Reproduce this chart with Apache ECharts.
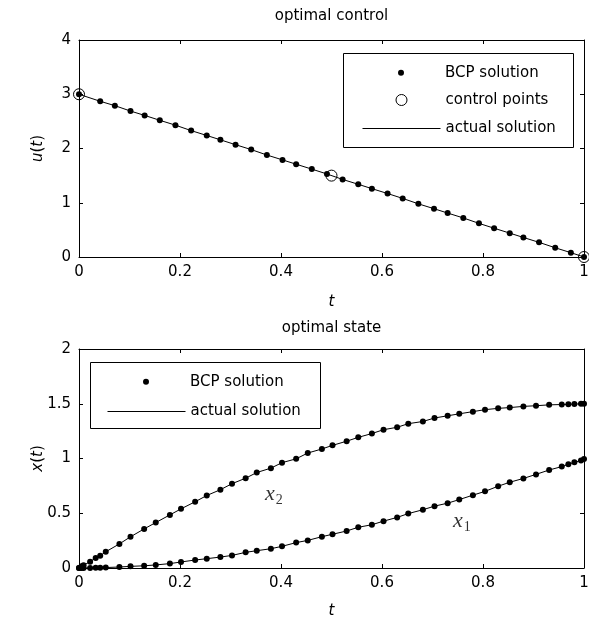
<!DOCTYPE html>
<html>
<head>
<meta charset="utf-8">
<script src="https://cdn.jsdelivr.net/npm/echarts@6/dist/echarts.min.js"></script>
<style>
html, body { margin: 0; padding: 0; background: #fff; }
#main { width: 589px; height: 619px; }
</style>
</head>
<body>
<div id="main"></div>
<script>
// top panel: optimal control u(t)
var tU = [0, 0.042, 0.071, 0.102, 0.13, 0.16, 0.191, 0.222, 0.253, 0.28, 0.31, 0.341, 0.372, 0.403, 0.43, 0.461, 0.491,
	0.522, 0.553, 0.58, 0.611, 0.641, 0.672, 0.703, 0.73, 0.761, 0.792, 0.822, 0.853, 0.88, 0.911, 0.943, 0.974, 1.0];
var uBcp = [3.0, 2.87, 2.79, 2.69, 2.61, 2.52, 2.43, 2.33, 2.24, 2.16, 2.07, 1.98, 1.88, 1.79, 1.71, 1.62, 1.53,
	1.43, 1.34, 1.26, 1.17, 1.08, 0.98, 0.89, 0.81, 0.72, 0.62, 0.53, 0.44, 0.36, 0.27, 0.17, 0.08, 0.0];
var tCtrl = [0, 0.5, 1];
var uCtrl = [3, 1.5, 0];

// bottom panel: optimal state x1(t), x2(t)
var tX = [0, 0.005, 0.009, 0.022, 0.033, 0.042, 0.053, 0.08, 0.102, 0.129, 0.152, 0.18, 0.202, 0.23, 0.253, 0.28,
	0.303, 0.33, 0.352, 0.38, 0.402, 0.43, 0.453, 0.481, 0.502, 0.53, 0.553, 0.58, 0.603, 0.63, 0.652, 0.681, 0.704,
	0.73, 0.753, 0.78, 0.804, 0.83, 0.853, 0.88, 0.905, 0.931, 0.956, 0.969, 0.981, 0.994, 1.0];
var x2Bcp = [0, 0.015, 0.025, 0.058, 0.092, 0.112, 0.148, 0.22, 0.285, 0.357, 0.415, 0.485, 0.54, 0.605, 0.662, 0.715,
	0.77, 0.82, 0.872, 0.912, 0.962, 0.997, 1.05, 1.087, 1.12, 1.158, 1.193, 1.228, 1.263, 1.285, 1.318, 1.338, 1.37,
	1.39, 1.408, 1.428, 1.446, 1.458, 1.465, 1.476, 1.482, 1.49, 1.493, 1.495, 1.497, 1.499, 1.5];
var x1Bcp = [0, 0, 0, 0.001, 0.002, 0.003, 0.004, 0.009, 0.015, 0.02, 0.028, 0.04, 0.055, 0.073, 0.085, 0.1,
	0.115, 0.143, 0.158, 0.176, 0.198, 0.232, 0.252, 0.286, 0.308, 0.338, 0.372, 0.395, 0.428, 0.462, 0.497, 0.532, 0.565,
	0.592, 0.625, 0.665, 0.7, 0.747, 0.783, 0.818, 0.855, 0.895, 0.926, 0.947, 0.965, 0.982, 0.995];

// curve name labels (x2, x1)
var annT = [0.386, 0.758];
var annX = [0.677, 0.43];
var annSub = ['2', '1'];

// tick values
var tTicks = [0, 0.2, 0.4, 0.6, 0.8, 1];
var uTicks = [0, 1, 2, 3, 4];
var xTicks = [0, 0.5, 1, 1.5, 2];

var FONT = 'DejaVu Sans';
var chart = echarts.init(document.getElementById('main'));

function pairs(t, v) {
	return t.map(function (x, i) { return [x, v[i]]; });
}

function axis(g, pos, ticks, showLabel, name, nameStyle, nameGap) {
	return {
		gridIndex: g,
		type: 'value',
		position: pos,
		min: ticks[0],
		max: ticks[ticks.length - 1],
		interval: ticks[1] - ticks[0],
		axisLine: { show: true, onZero: false, lineStyle: { color: '#000', width: 1 } },
		axisTick: { show: true, inside: true, length: 4, lineStyle: { color: '#000', width: 1 } },
		axisLabel: { show: showLabel, color: '#000', fontFamily: FONT, fontSize: 15, margin: 8 },
		splitLine: { show: false },
		name: name || '',
		nameLocation: 'middle',
		nameGap: nameGap || 0,
		nameMoveOverlap: false,
		nameTextStyle: nameStyle || {}
	};
}

var tName = { fontFamily: FONT, fontSize: 15, color: '#000', fontStyle: 'italic' };
function fnName() {
	return {
		fontFamily: FONT, fontSize: 15, color: '#000',
		rich: { i: { fontFamily: FONT, fontSize: 15, color: '#000', fontStyle: 'italic' } }
	};
}

// legend rows: icon area 78px wide, symbol icons are centred in it
var ICON_W = 78;
var legendCommon = {
	orient: 'horizontal',
	padding: 0,
	itemGap: 0,
	itemWidth: ICON_W,
	selectedMode: false,
	textStyle: { fontFamily: FONT, fontSize: 15, color: '#000', lineHeight: 16 },
	z: 6
};
function legend(name, left, top, h, isSymbol, extra) {
	// a lone symbol icon only spans its own size, so shift it to the centre of the icon area
	var x = isSymbol ? left + (ICON_W - h) / 2 : left;
	var o = Object.assign({}, legendCommon, { left: x, top: top, itemHeight: h });
	o.data = [Object.assign({ name: name }, extra || {})];
	return o;
}
var lineItem = { itemStyle: { opacity: 0 }, lineStyle: { width: 1, color: '#000' } };
var ringItem = { itemStyle: { color: 'rgba(0,0,0,0)', borderColor: '#000', borderWidth: 1 } };

var dotStyle = { color: '#000', opacity: 1 };

var option = {
	animation: false,
	backgroundColor: '#fff',
	title: [
		{ text: 'optimal control', left: 331.5, top: 9, textAlign: 'center', padding: 0,
			textStyle: { fontFamily: FONT, fontSize: 15, fontWeight: 'normal', color: '#000' } },
		{ text: 'optimal state', left: 331.5, top: 321, textAlign: 'center', padding: 0,
			textStyle: { fontFamily: FONT, fontSize: 15, fontWeight: 'normal', color: '#000' } }
	],
	grid: [
		{ left: 79, top: 40, width: 505, height: 217, outerBoundsMode: 'none', containLabel: false },
		{ left: 79, top: 349, width: 505, height: 219, outerBoundsMode: 'none', containLabel: false }
	],
	xAxis: [
		axis(0, 'bottom', tTicks, true, 't', tName, 38),
		axis(0, 'top', tTicks, false),
		axis(1, 'bottom', tTicks, true, 't', tName, 36),
		axis(1, 'top', tTicks, false)
	],
	yAxis: [
		axis(0, 'left', uTicks, true, '{i|u}({i|t})', fnName(), 33),
		axis(0, 'right', uTicks, false),
		axis(1, 'left', xTicks, true, '{i|x}({i|t})', fnName(), 33),
		axis(1, 'right', xTicks, false)
	],
	legend: [
		legend('BCP solution', 362, 64.7, 6, true),
		legend('control points', 362, 92, 11, true, ringItem),
		legend('actual solution', 362, 120.5, 6, false, lineItem),
		legend('BCP solution', 107, 373.7, 6, true),
		legend('actual solution', 107, 403.5, 6, false, lineItem)
	],
	graphic: [
		{ type: 'rect', silent: true, z: 3, shape: { x: 343.5, y: 53.5, width: 230, height: 94 },
			style: { fill: '#fff', stroke: '#000', lineWidth: 1 } },
		{ type: 'rect', silent: true, z: 3, shape: { x: 90.5, y: 362.5, width: 230, height: 66 },
			style: { fill: '#fff', stroke: '#000', lineWidth: 1 } }
	],
	series: [
		{
			name: 'actual solution', type: 'line', xAxisIndex: 0, yAxisIndex: 0,
			data: pairs(tU, uBcp), symbol: 'none', silent: true, z: 2,
			lineStyle: { color: '#000', width: 1 }, itemStyle: { color: '#000' }
		},
		{
			name: 'BCP solution', type: 'scatter', xAxisIndex: 0, yAxisIndex: 0,
			data: pairs(tU, uBcp), symbol: 'circle', symbolSize: 6, clip: false, silent: true, z: 3,
			itemStyle: dotStyle
		},
		{
			name: 'control points', type: 'scatter', xAxisIndex: 0, yAxisIndex: 0,
			data: pairs(tCtrl, uCtrl), symbol: 'circle', symbolSize: 11, clip: false, silent: true, z: 4,
			itemStyle: { color: 'rgba(0,0,0,0)', borderColor: '#000', borderWidth: 1, opacity: 1 }
		},
		{
			name: 'actual solution', type: 'line', xAxisIndex: 2, yAxisIndex: 2,
			data: pairs(tX, x2Bcp), symbol: 'none', silent: true, z: 2,
			lineStyle: { color: '#000', width: 1 }, itemStyle: { color: '#000' }
		},
		{
			name: 'actual solution', type: 'line', xAxisIndex: 2, yAxisIndex: 2,
			data: pairs(tX, x1Bcp), symbol: 'none', silent: true, z: 2,
			lineStyle: { color: '#000', width: 1 }, itemStyle: { color: '#000' }
		},
		{
			name: 'BCP solution', type: 'scatter', xAxisIndex: 2, yAxisIndex: 2,
			data: pairs(tX, x2Bcp), symbol: 'circle', symbolSize: 6, clip: false, silent: true, z: 3,
			itemStyle: dotStyle
		},
		{
			name: 'BCP solution', type: 'scatter', xAxisIndex: 2, yAxisIndex: 2,
			data: pairs(tX, x1Bcp), symbol: 'circle', symbolSize: 6, clip: false, silent: true, z: 3,
			itemStyle: dotStyle
		},
		{
			name: 'curve names', type: 'scatter', xAxisIndex: 2, yAxisIndex: 2,
			symbol: 'circle', symbolSize: 1, silent: true, z: 5,
			itemStyle: { color: 'rgba(0,0,0,0)' },
			data: annT.map(function (t, i) {
				return {
					value: [t, annX[i]],
					label: { formatter: '{v|x}{s|' + annSub[i] + '}' }
				};
			}),
			label: {
				show: true, position: 'inside', color: '#000',
				rich: {
					v: { fontFamily: 'Liberation Serif', fontStyle: 'italic', fontSize: 22, color: '#000', lineHeight: 24 },
					s: { fontFamily: 'Liberation Serif', fontSize: 14, color: '#000', padding: [12, 0, 0, 1] }
				}
			}
		}
	]
};

chart.setOption(option);
</script>
</body>
</html>
